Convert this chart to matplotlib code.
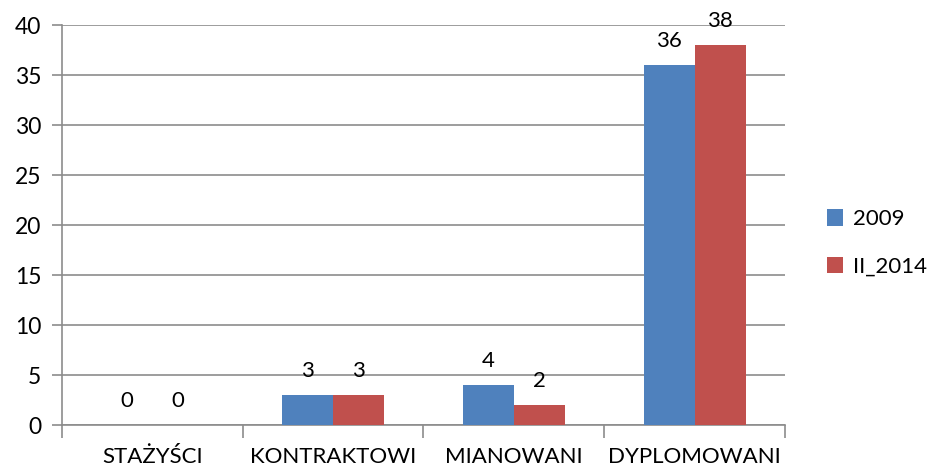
import matplotlib
matplotlib.use("Agg")
import matplotlib.pyplot as plt
import numpy as np

categories = ["STAŻYŚCI", "KONTRAKTOWI", "MIANOWANI", "DYPLOMOWANI"]
series_names = ["2009", "II_2014"]
values_2009 = [0, 3, 4, 36]
values_2014 = [0, 3, 2, 38]
colors = ["#4F81BD", "#C0504D"]
yticks = [0, 5, 10, 15, 20, 25, 30, 35, 40]

plt.rcParams['font.family'] = ['Lato', 'DejaVu Sans']
fs = 16

fig = plt.figure(figsize=(9.28, 4.67), dpi=100)
ax = fig.add_axes([62/928, 1-425/467, (785-62)/928, 400/467])

x = np.arange(len(categories))
w = 0.282
for i, (vals, name, c) in enumerate(zip([values_2009, values_2014], series_names, colors)):
    pos = x + (i - 0.5) * w
    ax.bar(pos, vals, width=w, color=c, label=name, zorder=3)
    for p, v in zip(pos, vals):
        ax.annotate(str(v), (p, v), xytext=(0, 10), textcoords="offset points",
                    ha="center", va="bottom", fontsize=fs, color="black")

ax.set_xlim(-0.5, len(categories) - 0.5)
ax.set_ylim(0, 40)
ax.set_yticks(yticks)
ax.set_yticklabels([str(t) for t in yticks], fontsize=16.5)
ax.yaxis.grid(True, color="#8C8C8C", linewidth=1.2, zorder=0)
ax.set_axisbelow(True)

ax.set_xticks(x)
ax.set_xticklabels(categories, fontsize=fs)
ax.tick_params(axis="x", length=0, pad=16)
ax.set_xticks(np.arange(len(categories) + 1) - 0.5, minor=True)
ax.tick_params(axis="x", which="minor", length=9, width=1.2, color="#8C8C8C")
ax.tick_params(axis="y", length=7, width=1.2, color="#8C8C8C", pad=8)

for s in ["top", "right"]:
    ax.spines[s].set_visible(False)
for s in ["left", "bottom"]:
    ax.spines[s].set_color("#8C8C8C")
    ax.spines[s].set_linewidth(1.2)

ax.legend(loc="center left", bbox_to_anchor=(1.03, 0.455), frameon=False,
          fontsize=fs, handlelength=0.75, handleheight=0.75, labelspacing=1.25,
          handletextpad=0.45)

fig.savefig("out.png", dpi=100)
